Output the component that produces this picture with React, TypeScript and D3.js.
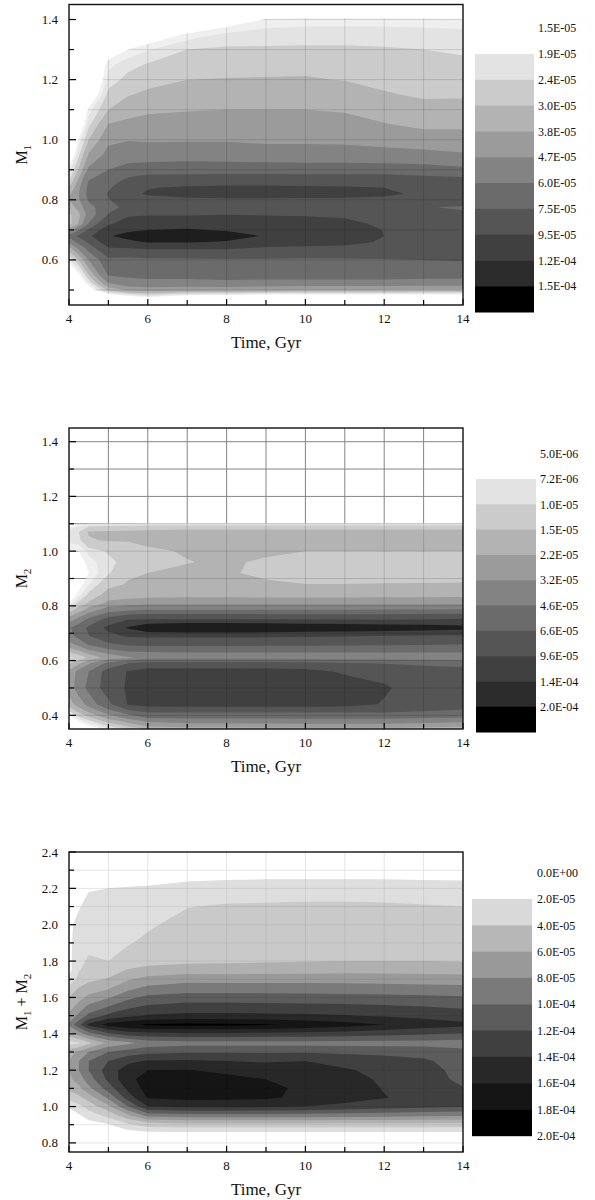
import React from "react";
import * as d3 from "d3";

// ---------- shared time grid (Gyr) ----------
const TIME = [4, 4.25, 4.5, 5, 5.5, 6, 7, 8, 9, 10, 11, 12, 13, 14];
const X_MAJOR = [4, 6, 8, 10, 12, 14];
const X_MINOR = [5, 7, 9, 11, 13];

// ---------- panel 1 : M1 (density in units of 1e-5) ----------
const M1_MASS = [0.45, 0.475, 0.5, 0.525, 0.55, 0.6, 0.64, 0.66, 0.68, 0.7, 0.72, 0.75, 0.775, 0.8, 0.82, 0.84, 0.86, 0.88, 0.9, 0.95, 1.0, 1.05, 1.1, 1.15, 1.2, 1.25, 1.3, 1.35, 1.4, 1.45];
const M1_DENSITY = [
  [0, 0, 0, 0, 0.3, 1.8, 3.5, 5.0, 6.4, 4.0, 2.7, 2.8, 3.4, 3.8, 3.6, 3.0, 2.4, 2.0, 1.7, 0.5, 0, 0, 0, 0, 0, 0, 0, 0, 0, 0],
  [0, 0, 0, 0.6, 1.3, 3.0, 5.0, 6.5, 7.8, 5.9, 3.9, 3.6, 4.1, 4.6, 4.7, 4.5, 4.1, 3.6, 3.1, 2.3, 1.6, 0.6, 0, 0, 0, 0, 0, 0, 0, 0],
  [0, 0, 0.8, 2.0, 3.0, 4.7, 6.6, 7.8, 9.1, 7.8, 6.1, 5.1, 5.5, 6.2, 6.45, 6.3, 6.1, 5.6, 4.9, 3.9, 3.0, 2.25, 1.7, 0.5, 0, 0, 0, 0, 0, 0],
  [0, 0, 3.2, 4.8, 6.1, 7.1, 9.4, 10.8, 11.8, 10.8, 9.2, 7.6, 7.0, 7.4, 7.6, 7.3, 6.9, 6.5, 6.0, 5.0, 4.5, 3.85, 3.0, 2.6, 2.1, 1.75, 1.0, 0, 0, 0],
  [0, 0.9, 4.0, 5.5, 6.3, 7.0, 9.6, 11.5, 12.8, 11.6, 10.6, 9.2, 7.9, 8.5, 9.0, 8.7, 8.0, 7.3, 6.6, 5.2, 4.65, 4.0, 3.5, 2.95, 2.6, 2.2, 1.5, 0.5, 0, 0],
  [0, 1.4, 4.2, 5.6, 6.5, 7.1, 9.8, 12.2, 13.5, 12.0, 10.9, 9.4, 8.3, 8.9, 9.7, 9.4, 8.6, 7.7, 6.8, 5.2, 4.6, 4.15, 3.65, 3.15, 2.75, 2.45, 1.85, 0.9, 0, 0],
  [0, 0.5, 4.0, 5.6, 6.5, 7.2, 9.8, 12.2, 13.6, 12.2, 11.0, 9.4, 8.4, 9.1, 10.3, 9.8, 8.7, 7.7, 6.9, 5.3, 4.6, 4.15, 3.75, 3.35, 3.0, 2.7, 2.4, 1.6, 0, 0],
  [0, 0.2, 4.0, 5.7, 6.6, 7.3, 9.8, 11.8, 13.0, 11.8, 10.8, 9.5, 8.4, 9.2, 10.4, 9.9, 8.8, 7.8, 6.8, 5.3, 4.6, 4.2, 3.8, 3.4, 3.03, 2.75, 2.5, 2.0, 1.0, 0],
  [0, 0, 3.9, 5.6, 6.6, 7.3, 9.3, 10.8, 11.8, 11.6, 10.8, 9.4, 8.4, 9.2, 10.3, 9.9, 8.8, 7.8, 6.8, 5.2, 4.5, 4.15, 3.8, 3.45, 3.05, 2.77, 2.48, 2.15, 1.55, 0],
  [0, 0, 3.75, 5.6, 6.6, 7.25, 9.1, 10.5, 11.4, 11.3, 10.5, 9.3, 8.3, 9.2, 10.2, 9.8, 8.8, 7.8, 6.7, 5.2, 4.5, 4.15, 3.8, 3.45, 3.07, 2.77, 2.49, 2.18, 1.65, 0],
  [0, 0, 3.75, 5.6, 6.6, 7.3, 9.0, 10.3, 11.0, 10.9, 10.2, 9.1, 8.2, 9.2, 10.1, 9.7, 8.8, 7.8, 6.7, 5.2, 4.45, 4.1, 3.72, 3.36, 2.97, 2.72, 2.49, 2.18, 1.65, 0],
  [0, 0, 3.75, 5.6, 6.6, 7.4, 8.7, 9.2, 9.5, 9.4, 9.0, 8.4, 8.0, 9.1, 9.8, 9.5, 8.7, 7.8, 6.7, 5.1, 4.3, 3.85, 3.45, 3.07, 2.8, 2.65, 2.45, 2.18, 1.65, 0],
  [0, 0, 3.7, 5.5, 6.5, 7.5, 8.5, 8.9, 9.1, 9.0, 8.7, 8.0, 7.6, 8.6, 9.2, 9.0, 8.3, 7.5, 6.6, 5.0, 4.15, 3.65, 3.25, 2.9, 2.7, 2.55, 2.4, 2.15, 1.62, 0],
  [0, 0, 3.7, 5.5, 6.5, 7.6, 8.6, 8.9, 9.1, 9.0, 8.6, 7.8, 7.3, 8.4, 9.1, 8.9, 8.2, 7.3, 6.3, 4.8, 4.15, 3.65, 3.15, 2.95, 2.8, 2.55, 2.3, 2.1, 1.55, 0],
];
const M1_LEVELS = [1.5, 1.9, 2.4, 3.0, 3.8, 4.7, 6.0, 7.5, 9.5, 12, 15];
const M1_FILLS = ["#efefef", "#e3e3e3", "#cbcbcb", "#b3b3b3", "#9b9b9b", "#838383", "#6b6b6b", "#555555", "#404040", "#1e1e1e", "#000000"];
const M1_LEGEND_LABELS = ["1.5E-05", "1.9E-05", "2.4E-05", "3.0E-05", "3.8E-05", "4.7E-05", "6.0E-05", "7.5E-05", "9.5E-05", "1.2E-04", "1.5E-04"];
const M1_LEGEND_COLORS = ["#e3e3e3", "#cbcbcb", "#b3b3b3", "#9b9b9b", "#838383", "#6b6b6b", "#555555", "#404040", "#2c2c2c", "#000000"];
const M1_Y_MAJOR = [0.6, 0.8, 1.0, 1.2, 1.4];
const M1_Y_MINOR = [0.5, 0.7, 0.9, 1.1, 1.3];

// ---------- panel 2 : M2 ----------
const M2_MASS = [0.35, 0.38, 0.41, 0.44, 0.5, 0.56, 0.59, 0.61, 0.63, 0.66, 0.69, 0.72, 0.75, 0.78, 0.81, 0.84, 0.88, 0.92, 0.96, 1.0, 1.04, 1.07, 1.09, 1.11, 1.45];
const M2_DENSITY = [
  [0, 0, 0.8, 1.8, 2.6, 2.4, 1.4, 0.9, 1.4, 2.8, 4.0, 4.4, 2.6, 1.3, 0.5, 0.2, 0.1, 0.1, 0.2, 0.5, 0.8, 0.85, 0.5, 0, 0],
  [0, 0.55, 1.5, 2.6, 3.8, 3.6, 2.0, 1.1, 1.8, 3.6, 5.2, 5.6, 3.6, 2.0, 1.1, 0.6, 0.35, 0.3, 0.35, 0.5, 0.9, 1.0, 0.75, 0, 0],
  [0.2, 0.9, 2.2, 3.6, 5.0, 4.6, 3.0, 1.6, 2.5, 4.8, 6.5, 7.0, 5.0, 2.8, 1.6, 1.1, 0.7, 0.5, 0.6, 0.8, 1.45, 1.55, 1.0, 0, 0],
  [0.6, 1.8, 3.6, 6.0, 7.8, 7.6, 5.0, 2.5, 3.5, 6.2, 8.6, 10.5, 7.5, 4.2, 2.4, 1.75, 1.3, 0.95, 0.9, 1.05, 1.55, 1.6, 1.1, 0, 0],
  [1.0, 2.6, 5.2, 9.8, 10.0, 9.8, 6.6, 3.0, 4.3, 7.0, 10.0, 14.5, 9.4, 4.8, 2.6, 1.85, 1.55, 1.4, 1.15, 1.2, 1.55, 1.6, 1.15, 0, 0],
  [1.6, 3.5, 6.6, 10.6, 11.2, 11.0, 7.6, 3.5, 4.5, 7.2, 10.2, 18, 9.8, 5.0, 2.8, 1.9, 1.65, 1.5, 1.3, 1.4, 1.65, 1.65, 1.2, 0, 0],
  [1.8, 3.8, 6.6, 10.8, 11.4, 11.0, 7.6, 3.6, 4.6, 7.2, 10.2, 19.5, 9.8, 5.0, 2.8, 1.95, 1.7, 1.6, 1.48, 1.55, 1.75, 1.7, 1.25, 0, 0],
  [1.8, 3.8, 6.6, 10.8, 11.4, 10.9, 7.6, 3.6, 4.6, 7.2, 10.2, 19.5, 9.8, 5.0, 2.8, 1.95, 1.65, 1.58, 1.58, 1.65, 1.78, 1.7, 1.25, 0, 0],
  [1.85, 3.85, 6.6, 10.8, 11.4, 10.8, 7.5, 3.6, 4.6, 7.1, 10.1, 19, 9.7, 5.0, 2.8, 1.93, 1.6, 1.35, 1.42, 1.6, 1.78, 1.71, 1.25, 0, 0],
  [1.92, 3.9, 6.6, 10.8, 11.4, 10.6, 7.4, 3.6, 4.6, 7.1, 10.0, 18, 9.6, 5.0, 2.8, 1.92, 1.5, 1.25, 1.25, 1.5, 1.78, 1.71, 1.25, 0, 0],
  [1.9, 3.9, 6.6, 10.6, 11.2, 9.2, 6.8, 3.6, 4.6, 7.0, 9.8, 17.5, 9.6, 5.0, 2.8, 1.92, 1.5, 1.22, 1.22, 1.5, 1.78, 1.71, 1.25, 0, 0],
  [1.9, 3.9, 6.6, 9.4, 9.9, 8.7, 6.5, 3.7, 4.6, 6.9, 9.5, 17, 9.5, 5.1, 2.85, 1.93, 1.52, 1.2, 1.2, 1.5, 1.76, 1.7, 1.25, 0, 0],
  [1.8, 3.7, 6.4, 7.6, 8.4, 8.1, 6.0, 3.8, 4.6, 6.8, 9.2, 16.5, 9.6, 5.1, 2.85, 1.94, 1.53, 1.2, 1.2, 1.5, 1.75, 1.7, 1.25, 0, 0],
  [1.7, 3.5, 6.2, 7.3, 8.1, 7.8, 5.6, 3.9, 4.6, 6.6, 9.0, 15.5, 10.0, 5.2, 2.9, 1.95, 1.55, 1.2, 1.2, 1.5, 1.75, 1.7, 1.25, 0, 0],
];
const M2_LEVELS = [0.5, 0.72, 1.0, 1.5, 2.2, 3.2, 4.6, 6.6, 9.6, 14, 20];
const M2_FILLS = ["#efefef", "#e3e3e3", "#cbcbcb", "#b3b3b3", "#9b9b9b", "#838383", "#6b6b6b", "#555555", "#404040", "#1e1e1e", "#000000"];
const M2_LEGEND_LABELS = ["5.0E-06", "7.2E-06", "1.0E-05", "1.5E-05", "2.2E-05", "3.2E-05", "4.6E-05", "6.6E-05", "9.6E-05", "1.4E-04", "2.0E-04"];
const M2_LEGEND_COLORS = ["#e3e3e3", "#cbcbcb", "#b3b3b3", "#9b9b9b", "#838383", "#6b6b6b", "#555555", "#404040", "#2c2c2c", "#000000"];
const M2_Y_MAJOR = [0.4, 0.6, 0.8, 1.0, 1.2, 1.4];
const M2_Y_MINOR = [0.5, 0.7, 0.9, 1.1, 1.3];

// ---------- panel 3 : M1 + M2 ----------
const M12_MASS = [0.75, 0.85, 0.88, 0.91, 0.95, 1.0, 1.05, 1.1, 1.15, 1.2, 1.25, 1.3, 1.35, 1.4, 1.45, 1.5, 1.55, 1.6, 1.65, 1.7, 1.75, 1.8, 1.9, 2.0, 2.1, 2.2, 2.25, 2.4];
const M12_DENSITY = [
  [0, 0, 0, 0, 0, 0.6, 2.5, 4.5, 5.5, 6.0, 6.0, 5.2, 1.2, 5.0, 8.5, 6.5, 5.0, 4.0, 2.5, 0.8, 0, 0, 0, 0, 0, 0, 0, 0],
  [0, 0, 0, 0, 0.3, 1.5, 3.5, 5.5, 7.0, 8.0, 8.0, 6.5, 1.8, 7.0, 11.5, 8.5, 6.8, 5.3, 4.2, 2.5, 1.9, 1.8, 1.6, 1.2, 0.3, 0, 0, 0],
  [0, 0, 0, 0.2, 1.0, 2.8, 5.0, 7.5, 9.0, 10.0, 10.0, 8.0, 3.5, 9.0, 14.5, 10.5, 8.5, 6.5, 5.0, 3.5, 2.6, 2.1, 1.8, 1.6, 1.3, 0.3, 0, 0],
  [0, 0, 0.1, 0.6, 2.5, 5.5, 8.5, 11.0, 12.5, 13.0, 12.0, 10.0, 6.5, 11.5, 16.8, 12.5, 10.0, 7.8, 5.8, 4.2, 3.0, 2.0, 1.8, 1.6, 1.3, 0.5, 0, 0],
  [0, 0, 0.7, 2.2, 5.5, 10.0, 13.0, 14.5, 15.5, 15.0, 13.5, 11.0, 7.5, 13.0, 17.6, 13.5, 11.5, 9.5, 7.5, 5.8, 4.2, 2.6, 1.9, 1.7, 1.4, 0.6, 0, 0],
  [0, 0, 1.4, 3.8, 8.5, 14.0, 16.2, 16.8, 16.8, 16.0, 14.2, 11.5, 8.8, 13.3, 18.3, 14.2, 12.3, 10.5, 8.5, 6.7, 4.6, 3.4, 2.3, 1.8, 1.5, 0.7, 0, 0],
  [0, 0, 1.6, 4.3, 9.0, 14.5, 16.6, 17.0, 16.8, 16.1, 14.3, 11.8, 9.2, 13.5, 18.5, 14.5, 12.8, 11.0, 9.0, 7.4, 5.0, 3.6, 3.0, 2.5, 1.95, 1.1, 0.3, 0],
  [0, 0, 1.6, 4.3, 9.0, 14.5, 16.5, 16.8, 16.5, 15.6, 14.0, 11.8, 9.2, 13.5, 18.4, 14.5, 12.8, 11.0, 9.0, 7.3, 5.0, 3.7, 3.1, 2.6, 2.15, 1.2, 0.45, 0],
  [0, 0, 1.6, 4.3, 9.0, 14.3, 16.4, 16.5, 16.0, 15.0, 13.8, 11.8, 9.2, 13.4, 18.2, 14.4, 12.7, 10.9, 9.0, 7.3, 5.1, 3.8, 3.2, 2.7, 2.2, 1.25, 0.5, 0],
  [0, 0, 1.6, 4.3, 9.0, 14.0, 15.4, 15.6, 15.5, 15.0, 14.0, 11.8, 9.2, 13.3, 17.5, 14.3, 12.6, 10.8, 9.0, 7.3, 5.2, 3.9, 3.3, 2.8, 2.25, 1.3, 0.5, 0],
  [0, 0, 1.6, 4.2, 8.8, 13.5, 14.8, 14.9, 14.7, 14.2, 13.4, 11.6, 9.2, 13.0, 16.8, 14.1, 12.5, 10.7, 8.9, 7.3, 5.3, 4.0, 3.3, 2.8, 2.25, 1.3, 0.5, 0],
  [0, 0, 1.6, 4.2, 8.6, 13.0, 14.1, 13.9, 13.7, 13.5, 13.0, 11.4, 9.2, 12.6, 16.0, 13.8, 12.3, 10.6, 8.8, 7.2, 5.3, 4.0, 3.3, 2.8, 2.2, 1.3, 0.5, 0],
  [0, 0, 1.6, 4.1, 8.4, 12.5, 13.2, 13.2, 13.0, 12.8, 12.3, 11.2, 9.2, 12.2, 15.2, 13.4, 12.0, 10.4, 8.7, 7.1, 5.2, 4.0, 3.2, 2.7, 2.1, 1.2, 0.45, 0],
  [0, 0, 1.5, 4.0, 8.2, 12.2, 12.5, 12.1, 11.5, 11.3, 11.1, 10.6, 9.0, 11.8, 14.5, 13.0, 11.7, 10.2, 8.6, 7.0, 5.1, 3.9, 3.0, 2.5, 2.0, 1.1, 0.4, 0],
];
const M12_LEVELS = [0.5, 2, 4, 6, 8, 10, 12, 14, 16, 18];
const M12_FILLS = ["#dedede", "#c9c9c9", "#b0b0b0", "#999999", "#7a7a7a", "#5c5c5c", "#404040", "#282828", "#151515", "#000000"];
const M12_LEGEND_LABELS = ["0.0E+00", "2.0E-05", "4.0E-05", "6.0E-05", "8.0E-05", "1.0E-04", "1.2E-04", "1.4E-04", "1.6E-04", "1.8E-04", "2.0E-04"];
const M12_LEGEND_COLORS = ["#d9d9d9", "#b7b7b7", "#999999", "#7a7a7a", "#5c5c5c", "#404040", "#282828", "#151515", "#000000"];
const M12_Y_MAJOR = [0.8, 1.0, 1.2, 1.4, 1.6, 1.8, 2.0, 2.2, 2.4];
const M12_Y_MINOR = [0.9, 1.1, 1.3, 1.5, 1.7, 1.9, 2.1, 2.3];

// ---------- layout ----------
const X0 = 69;
const X1 = 463;
const FONT = "'Liberation Serif', 'Times New Roman', serif";

type Spec = {
  id: string;
  top: number;
  bottom: number;
  yDomain: [number, number];
  yMajor: number[];
  yMinor: number[];
  mass: number[];
  density: number[][];
  levels: number[];
  fills: string[];
  legendLabels: string[];
  legendColors: string[];
  legendX: number;
  legendTop: number;
  legendW: number;
  legendBand: number;
  legendLabelX: number;
  gridUnder: string | null;
  gridOver: string;
  ylabel: React.ReactNode;
};

function Panel({ spec }: { spec: Spec }) {
  const x = d3.scaleLinear().domain([4, 14]).range([X0, X1]);
  const y = d3.scaleLinear().domain(spec.yDomain).range([spec.bottom, spec.top]);
  const nx = TIME.length;
  const ny = spec.mass.length;
  const values: number[] = [];
  for (let j = 0; j < ny; j++) for (let i = 0; i < nx; i++) values.push(spec.density[i][j]);
  const bands = d3.contours().size([nx, ny]).thresholds(spec.levels)(values);
  const tOf = d3.scaleLinear().domain(TIME.map((_, i) => i)).range(TIME).clamp(true);
  const mOf = d3.scaleLinear().domain(spec.mass.map((_, j) => j)).range(spec.mass).clamp(true);
  const projection = d3.geoTransform({
    point: function (this: any, px: number, py: number) {
      this.stream.point(x(tOf(px - 0.5)), y(mOf(py - 0.5)));
    },
  });
  const path = d3.geoPath(projection as any);
  const gridT = d3.range(5, 14);
  const gridM = [...spec.yMajor, ...spec.yMinor].filter(
    (v) => v > spec.yDomain[0] + 1e-9 && v < spec.yDomain[1] - 1e-9
  );
  const fmt = d3.format(".1f");
  const cy = (spec.top + spec.bottom) / 2;
  const clipId = "clip-" + spec.id;

  const gridLines = (stroke: string, key: string, clip?: string) => (
    <g key={key} stroke={stroke} strokeWidth={1} clipPath={clip ? `url(#${clip})` : undefined}>
      {gridT.map((t) => (
        <line key={"t" + t} x1={x(t)} x2={x(t)} y1={spec.top} y2={spec.bottom} />
      ))}
      {gridM.map((m) => (
        <line key={"m" + m} x1={X0} x2={X1} y1={y(m)} y2={y(m)} />
      ))}
    </g>
  );

  return (
    <g>
      <defs>
        <clipPath id={clipId}>
          <path d={path(bands[0] as any) || ""} />
        </clipPath>
      </defs>
      {spec.gridUnder ? gridLines(spec.gridUnder, "under") : null}
      <g>
        {bands.map((b, k) => (
          <path key={k} d={path(b as any) || ""} fill={spec.fills[k]} stroke="none" />
        ))}
      </g>
      {gridLines(spec.gridOver, "over", clipId)}
      {/* ticks (inward) */}
      <g stroke="#000" strokeWidth={1.2}>
        {X_MAJOR.map((t) => (
          <line key={"xM" + t} x1={x(t)} x2={x(t)} y1={spec.bottom} y2={spec.bottom - 6} />
        ))}
        {X_MINOR.map((t) => (
          <line key={"xm" + t} x1={x(t)} x2={x(t)} y1={spec.bottom} y2={spec.bottom - 5} />
        ))}
        {spec.yMajor.map((m) => (
          <line key={"yM" + m} x1={X0} x2={X0 + 7} y1={y(m)} y2={y(m)} />
        ))}
        {spec.yMinor.map((m) => (
          <line key={"ym" + m} x1={X0} x2={X0 + 5} y1={y(m)} y2={y(m)} />
        ))}
      </g>
      <rect
        x={X0}
        y={spec.top}
        width={X1 - X0}
        height={spec.bottom - spec.top}
        fill="none"
        stroke="#111"
        strokeWidth={1.4}
      />
      {/* tick labels */}
      <g fontFamily={FONT} fontSize={13} fill="#111">
        {X_MAJOR.map((t) => (
          <text key={"xl" + t} x={x(t)} y={spec.bottom + 18} textAnchor="middle">
            {t}
          </text>
        ))}
        {spec.yMajor.map((m) => (
          <text key={"yl" + m} x={X0 - 11} y={y(m)} dy="0.35em" textAnchor="end">
            {fmt(m)}
          </text>
        ))}
      </g>
      <text
        x={(X0 + X1) / 2}
        y={spec.bottom + 43}
        textAnchor="middle"
        fontFamily={FONT}
        fontSize={17}
        fill="#111"
      >
        Time, Gyr
      </text>
      <text
        transform={`translate(27, ${cy}) rotate(-90)`}
        textAnchor="middle"
        fontFamily={FONT}
        fontSize={16}
        fill="#111"
      >
        {spec.ylabel}
      </text>
      {/* legend */}
      <g>
        {spec.legendColors.map((c, i) => (
          <rect
            key={"lc" + i}
            x={spec.legendX}
            y={spec.legendTop + i * spec.legendBand}
            width={spec.legendW}
            height={spec.legendBand + 0.5}
            fill={c}
          />
        ))}
        {spec.legendLabels.map((s, i) => (
          <text
            key={"ll" + i}
            x={spec.legendLabelX}
            y={spec.legendTop + (i - 1) * spec.legendBand}
            dy="0.35em"
            fontFamily={FONT}
            fontSize={12}
            fill="#111"
          >
            {s}
          </text>
        ))}
      </g>
    </g>
  );
}

const SPECS: Spec[] = [
  {
    id: "m1",
    top: 4.5,
    bottom: 305,
    yDomain: [0.45, 1.45],
    yMajor: M1_Y_MAJOR,
    yMinor: M1_Y_MINOR,
    mass: M1_MASS,
    density: M1_DENSITY,
    levels: M1_LEVELS,
    fills: M1_FILLS,
    legendLabels: M1_LEGEND_LABELS,
    legendColors: M1_LEGEND_COLORS,
    legendX: 475,
    legendTop: 54,
    legendW: 59,
    legendBand: 25.8,
    legendLabelX: 538,
    gridUnder: null,
    gridOver: "rgba(0,0,0,0.13)",
    ylabel: (
      <>
        M<tspan dy={4} fontSize={11}>1</tspan>
      </>
    ),
  },
  {
    id: "m2",
    top: 428,
    bottom: 729,
    yDomain: [0.35, 1.45],
    yMajor: M2_Y_MAJOR,
    yMinor: M2_Y_MINOR,
    mass: M2_MASS,
    density: M2_DENSITY,
    levels: M2_LEVELS,
    fills: M2_FILLS,
    legendLabels: M2_LEGEND_LABELS,
    legendColors: M2_LEGEND_COLORS,
    legendX: 476,
    legendTop: 479,
    legendW: 60,
    legendBand: 25.3,
    legendLabelX: 540,
    gridUnder: "#858585",
    gridOver: "rgba(0,0,0,0.14)",
    ylabel: (
      <>
        M<tspan dy={4} fontSize={11}>2</tspan>
      </>
    ),
  },
  {
    id: "m12",
    top: 852,
    bottom: 1152,
    yDomain: [0.75, 2.4],
    yMajor: M12_Y_MAJOR,
    yMinor: M12_Y_MINOR,
    mass: M12_MASS,
    density: M12_DENSITY,
    levels: M12_LEVELS,
    fills: M12_FILLS,
    legendLabels: M12_LEGEND_LABELS,
    legendColors: M12_LEGEND_COLORS,
    legendX: 472,
    legendTop: 899,
    legendW: 60,
    legendBand: 26.3,
    legendLabelX: 537,
    gridUnder: "#e4e4e4",
    gridOver: "rgba(0,0,0,0.07)",
    ylabel: (
      <>
        M<tspan dy={4} fontSize={11}>1</tspan>
        <tspan dy={-4}> + M</tspan>
        <tspan dy={4} fontSize={11}>2</tspan>
      </>
    ),
  },
];

export default function App() {
  return (
    <svg
      width={595}
      height={1200}
      viewBox="0 0 595 1200"
      style={{ position: "absolute", left: 0, top: 0, display: "block", background: "#fff" }}
    >
      <rect x={0} y={0} width={595} height={1200} fill="#fff" />
      {SPECS.map((s) => (
        <Panel key={s.id} spec={s} />
      ))}
    </svg>
  );
}
